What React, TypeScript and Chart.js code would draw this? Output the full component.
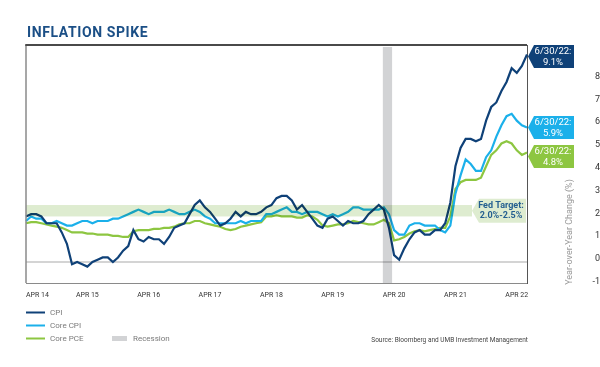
import React, { useEffect, useRef } from "react";
import { Chart, registerables } from "chart.js";

Chart.register(...registerables);

// Monthly observations, Apr 2014 .. Jun 2022
const firstYear = 2014;
const firstMonth = 3; // April (0-based)
const monthCount = 99;
const monthShort = ["Jan", "Feb", "Mar", "Apr", "May", "Jun", "Jul", "Aug", "Sep", "Oct", "Nov", "Dec"];
const months: string[] = [];
for (let i = 0; i < monthCount; i++) {
  const m = (firstMonth + i) % 12;
  const yr = firstYear + Math.floor((firstMonth + i) / 12);
  months.push(`${monthShort[m]} ${String(yr).slice(2)}`);
}

const cpi = [
  2.0, 2.1, 2.1, 2.0, 1.7, 1.7, 1.7, 1.3, 0.8,
  -0.1, 0.0, -0.1, -0.2, 0.0, 0.1, 0.2, 0.2, 0.0, 0.2, 0.5, 0.7,
  1.4, 1.0, 0.9, 1.1, 1.0, 1.0, 0.8, 1.1, 1.5, 1.6, 1.7, 2.1,
  2.5, 2.7, 2.4, 2.2, 1.9, 1.6, 1.7, 1.9, 2.2, 2.0, 2.2, 2.1,
  2.1, 2.2, 2.4, 2.5, 2.8, 2.9, 2.9, 2.7, 2.3, 2.5, 2.2, 1.9,
  1.6, 1.5, 1.9, 2.0, 1.8, 1.6, 1.8, 1.7, 1.7, 1.8, 2.1, 2.3,
  2.5, 2.3, 1.5, 0.3, 0.1, 0.6, 1.0, 1.3, 1.4, 1.2, 1.2, 1.4,
  1.4, 1.7, 2.6, 4.2, 5.0, 5.4, 5.4, 5.3, 5.4, 6.2, 6.8, 7.0,
  7.5, 7.9, 8.5, 8.3, 8.6, 9.1,
];

const coreCpi = [
  1.8, 2.0, 1.9, 1.9, 1.7, 1.7, 1.8, 1.7, 1.6,
  1.6, 1.7, 1.8, 1.8, 1.7, 1.8, 1.8, 1.8, 1.9, 1.9, 2.0, 2.1,
  2.2, 2.3, 2.2, 2.1, 2.2, 2.2, 2.2, 2.3, 2.2, 2.1, 2.1, 2.2,
  2.3, 2.2, 2.0, 1.9, 1.7, 1.7, 1.7, 1.7, 1.7, 1.8, 1.7, 1.8,
  1.8, 1.8, 2.1, 2.1, 2.2, 2.3, 2.4, 2.2, 2.2, 2.1, 2.2, 2.2,
  2.2, 2.1, 2.0, 2.1, 2.0, 2.1, 2.2, 2.4, 2.4, 2.3, 2.3, 2.3,
  2.3, 2.4, 2.1, 1.4, 1.2, 1.2, 1.6, 1.7, 1.7, 1.6, 1.6, 1.6,
  1.4, 1.3, 1.6, 3.0, 3.8, 4.5, 4.3, 4.0, 4.0, 4.6, 4.9, 5.5,
  6.0, 6.4, 6.5, 6.2, 6.0, 5.9,
];

const corePce = [
  1.7, 1.75, 1.75, 1.7, 1.65, 1.6, 1.55, 1.5, 1.4,
  1.3, 1.3, 1.3, 1.25, 1.25, 1.2, 1.2, 1.2, 1.15, 1.15, 1.1, 1.1,
  1.35, 1.4, 1.4, 1.4, 1.45, 1.45, 1.5, 1.5, 1.55, 1.65, 1.7, 1.7,
  1.8, 1.8, 1.7, 1.65, 1.6, 1.55, 1.45, 1.4, 1.45, 1.55, 1.6, 1.65,
  1.7, 1.75, 2.0, 2.0, 2.05, 2.0, 2.0, 2.0, 1.95, 1.95, 2.05, 2.0,
  1.85, 1.6, 1.55, 1.6, 1.65, 1.65, 1.7, 1.8, 1.75, 1.7, 1.65, 1.65,
  1.75, 1.85, 1.7, 0.95, 1.0, 1.1, 1.25, 1.35, 1.4, 1.35, 1.4, 1.45,
  1.5, 1.5, 2.0, 3.2, 3.5, 3.6, 3.6, 3.6, 3.7, 4.2, 4.7, 4.9,
  5.2, 5.3, 5.2, 4.9, 4.7, 4.8,
];

const xTickMonths = ["Apr 14", "Apr 15", "Apr 16", "Apr 17", "Apr 18", "Apr 19", "Apr 20", "Apr 21", "Apr 22"];
const xTickLabels = ["APR 14", "APR 15", "APR 16", "APR 17", "APR 18", "APR 19", "APR 20", "APR 21", "APR 22"];
const yTicks = [-1, 0, 1, 2, 3, 4, 5, 6, 7, 8];
const fedTarget = [2.0, 2.5];
const recession = ["Feb 20", "Apr 20"];
const endDateLabel = "6/30/22:";

const seriesNames = ["CPI", "Core CPI", "Core PCE"];
const seriesColors = ["#0f4178", "#1bb0ea", "#8dc641"];

const FONT = "Roboto, 'Open Sans', sans-serif";

function callout(ctx: CanvasRenderingContext2D, tipX: number, bodyX: number, right: number, cy: number, h: number) {
  ctx.beginPath();
  ctx.moveTo(tipX, cy);
  ctx.lineTo(bodyX, cy - h / 2);
  ctx.lineTo(right, cy - h / 2);
  ctx.lineTo(right, cy + h / 2);
  ctx.lineTo(bodyX, cy + h / 2);
  ctx.closePath();
  ctx.fill();
}

const decorPlugin = {
  id: "decor",
  beforeDraw(chart: any) {
    const { ctx, width, height } = chart;
    ctx.save();
    ctx.fillStyle = "#ffffff";
    ctx.fillRect(0, 0, width, height);
    ctx.restore();
  },
  beforeDatasetsDraw(chart: any) {
    const { ctx, chartArea: a, scales } = chart;
    const y0 = scales.y.getPixelForValue(0);
    ctx.save();
    ctx.strokeStyle = "#d4d4d4";
    ctx.lineWidth = 2;
    ctx.beginPath();
    ctx.moveTo(a.left, y0);
    ctx.lineTo(a.right, y0);
    ctx.stroke();
    ctx.restore();
  },
  afterDatasetsDraw(chart: any) {
    const { ctx, chartArea: a, scales } = chart;
    const x = scales.x;
    const y = scales.y;
    ctx.save();

    // Fed target band + recession bar (multiply over lines)
    const fedTip = a.right - 55;
    const fedBody = a.right - 48;
    const fedRight = a.right - 1;
    const yLo = y.getPixelForValue(fedTarget[0]);
    const yHi = y.getPixelForValue(fedTarget[1]);
    ctx.globalCompositeOperation = "multiply";
    ctx.fillStyle = "#deecd0";
    ctx.fillRect(a.left, yHi, fedTip - a.left, yLo - yHi);
    const rx0 = x.getPixelForValue(months.indexOf(recession[0]));
    const rx1 = x.getPixelForValue(months.indexOf(recession[1]));
    ctx.fillStyle = "#d2d3d5";
    ctx.fillRect(rx0 - 1, a.top + 2, rx1 - rx0 - 1, a.bottom - a.top - 2);
    ctx.globalCompositeOperation = "source-over";

    // Fed target callout
    const fcy = (yLo + yHi) / 2;
    ctx.fillStyle = "#deecd0";
    callout(ctx, fedTip, fedBody, fedRight, fcy, 24);
    ctx.fillStyle = "#245f90";
    ctx.font = `bold 9px ${FONT}`;
    ctx.textAlign = "center";
    ctx.textBaseline = "middle";
    const fcx = (fedTip + fedRight) / 2 + 2;
    ctx.fillText("Fed Target:", fcx, fcy - 4.5);
    ctx.fillText(`${fedTarget[0].toFixed(1)}%-${fedTarget[1].toFixed(1)}%`, fcx, fcy + 5.5);

    // Frame
    ctx.strokeStyle = "#8a8a8a";
    ctx.lineWidth = 1.5;
    ctx.beginPath();
    ctx.moveTo(a.left, a.top);
    ctx.lineTo(a.left, a.bottom);
    ctx.stroke();
    ctx.lineWidth = 1;
    ctx.beginPath();
    ctx.moveTo(a.left, a.bottom + 0.5);
    ctx.lineTo(a.right, a.bottom + 0.5);
    ctx.stroke();
    ctx.strokeStyle = "#4a4a4a";
    ctx.lineWidth = 2;
    ctx.beginPath();
    ctx.moveTo(a.left - 0.75, a.top);
    ctx.lineTo(a.right, a.top);
    ctx.stroke();

    // End-value callouts
    const series = [cpi, coreCpi, corePce];
    const h = 23;
    let prevBottom = a.top - 6;
    series.forEach((s, i) => {
      const last = s[s.length - 1];
      let cy = y.getPixelForValue(last);
      cy = Math.max(cy, prevBottom + 6 + h / 2);
      prevBottom = cy + h / 2;
      ctx.fillStyle = seriesColors[i];
      const tip = a.right + 1;
      const right = a.right + 47;
      callout(ctx, tip, a.right + 7, right, cy, h);
      ctx.fillStyle = "#ffffff";
      ctx.font = `9.5px ${FONT}`;
      ctx.textAlign = "center";
      ctx.textBaseline = "middle";
      const cx = (tip + right) / 2 + 2;
      ctx.fillText(endDateLabel, cx, cy - 4.5);
      ctx.fillText(`${last.toFixed(1)}%`, cx, cy + 6);
    });

    // X tick labels
    ctx.fillStyle = "#333333";
    ctx.font = `7px ${FONT}`;
    ctx.textBaseline = "alphabetic";
    xTickMonths.forEach((m, i) => {
      const px = x.getPixelForValue(months.indexOf(m));
      if (i === 0) {
        ctx.textAlign = "left";
        ctx.fillText(xTickLabels[i], a.left, a.bottom + 14);
      } else {
        ctx.textAlign = "center";
        ctx.fillText(xTickLabels[i], px, a.bottom + 14);
      }
    });

    // Y axis title
    ctx.save();
    ctx.translate(a.right + 43, a.bottom - 51);
    ctx.rotate(-Math.PI / 2);
    ctx.fillStyle = "#9a9a9a";
    ctx.font = `9px ${FONT}`;
    ctx.textAlign = "center";
    ctx.textBaseline = "middle";
    ctx.fillText("Year-over-Year Change (%)", 0, 0);
    ctx.restore();

    // Legend
    ctx.font = `8px ${FONT}`;
    ctx.textAlign = "left";
    ctx.textBaseline = "middle";
    seriesNames.forEach((n, i) => {
      const ly = a.bottom + 29.5 + i * 13;
      ctx.strokeStyle = seriesColors[i];
      ctx.lineWidth = 2;
      ctx.beginPath();
      ctx.moveTo(a.left, ly);
      ctx.lineTo(a.left + 19, ly);
      ctx.stroke();
      ctx.fillStyle = "#7a7a7a";
      ctx.fillText(n, a.left + 24, ly);
    });
    const ry = a.bottom + 55.5;
    ctx.fillStyle = "#d2d3d5";
    ctx.fillRect(a.left + 86, ry - 2.5, 15, 5);
    ctx.fillStyle = "#7a7a7a";
    ctx.fillText("Recession", a.left + 107, ry);

    // Source
    ctx.fillStyle = "#444444";
    ctx.font = `6.5px ${FONT}`;
    ctx.textAlign = "right";
    ctx.fillText("Source: Bloomberg and UMB Investment Management", a.right + 1, a.bottom + 57);

    // Title
    ctx.fillStyle = "#1b4f86";
    ctx.font = `bold 14px ${FONT}`;
    ctx.textAlign = "left";
    ctx.textBaseline = "alphabetic";
    (ctx as any).letterSpacing = "0.6px";
    ctx.fillText("INFLATION SPIKE", a.left + 1, 37);
    (ctx as any).letterSpacing = "0px";

    ctx.restore();
  },
};

export default function App() {
  const ref = useRef<HTMLCanvasElement | null>(null);
  useEffect(() => {
    if (!ref.current) return;
    const chart = new Chart(ref.current, {
      type: "line",
      data: {
        labels: months,
        datasets: [cpi, coreCpi, corePce].map((d, i) => ({
          label: seriesNames[i],
          data: d,
          borderColor: seriesColors[i],
          backgroundColor: seriesColors[i],
          borderWidth: 2.2,
          pointRadius: 0,
          tension: 0,
          fill: false,
        })),
      },
      options: {
        responsive: false,
        animation: false,
        devicePixelRatio: 1,
        layout: { padding: { left: 26, top: 45, right: 0, bottom: 84 } },
        plugins: { legend: { display: false }, tooltip: { enabled: false } },
        scales: {
          x: { type: "category", display: false, offset: false },
          y: {
            position: "right",
            min: -0.92,
            max: 9.52,
            grid: { display: false, drawTicks: false },
            border: { display: true, color: "#555555", width: 1 },
            ticks: {
              autoSkip: false,
              color: "#333333",
              font: { family: FONT, size: 9 },
              padding: 15,
              crossAlign: "far",
              labelOffset: -3,
            },
            afterBuildTicks: (s: any) => {
              s.ticks = yTicks.map((v) => ({ value: v }));
            },
            afterFit: (s: any) => {
              s.width = 73;
            },
          },
        },
      },
      plugins: [decorPlugin],
    } as any);
    return () => chart.destroy();
  }, []);
  return (
    <div style={{ position: "fixed", left: 0, top: 0, width: 600, height: 367, background: "#fff" }}>
      <canvas ref={ref} width={600} height={367} style={{ width: 600, height: 367, display: "block" }} />
    </div>
  );
}
